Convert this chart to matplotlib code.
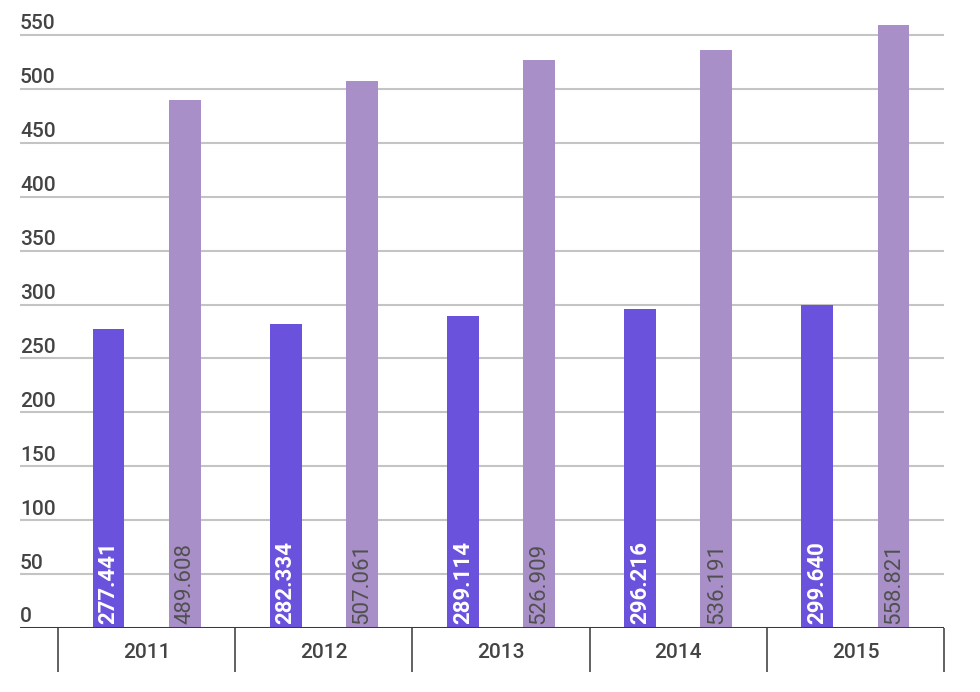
import matplotlib
matplotlib.use("Agg")
import matplotlib.pyplot as plt
import numpy as np
from matplotlib.transforms import blended_transform_factory

years = ["2011", "2012", "2013", "2014", "2015"]
series_a = [277.441, 282.334, 289.114, 296.216, 299.640]
series_b = [489.608, 507.061, 526.909, 536.191, 558.821]
label_a = ["277.441", "282.334", "289.114", "296.216", "299.640"]
label_b = ["489.608", "507.061", "526.909", "536.191", "558.821"]
yticks = [0, 50, 100, 150, 200, 250, 300, 350, 400, 450, 500, 550]

plt.rcParams['font.family'] = ['Roboto', 'DejaVu Sans']

W, H = 980, 692
fig = plt.figure(figsize=(W / 100, H / 100), dpi=100)
x0, x1 = 20, 944
ybase, ytop = 628, 15
ax = fig.add_axes([x0 / W, (H - ybase) / H, (x1 - x0) / W, (ybase - ytop) / H])

pxu = (ybase - 35) / 550.0
ax.set_ylim(0, (ybase - ytop) / pxu)
cat_px = (944 - 58) / 5.0
ax.set_xlim(-0.5 - (58 - x0) / cat_px, 4.5)

c_a = "#6a52dc"
c_b = "#a98fc8"
x = np.arange(len(years))
off, w = 0.215, 0.18
ax.bar(x - off, series_a, w, color=c_a, zorder=3)
ax.bar(x + off, series_b, w, color=c_b, zorder=3)

for v in yticks[1:]:
    ax.axhline(v, color="#c4c4c4", lw=1.5, zorder=1)
ax.axhline(0, color="#3a3a3a", lw=2.2, zorder=4)

for s in ax.spines.values():
    s.set_visible(False)

# y tick labels as text above gridlines
tr = blended_transform_factory(ax.transAxes, ax.transData)
for v in yticks:
    ax.annotate(str(v), xy=(0, v), xycoords=tr, xytext=(0, 4), textcoords="offset points",
                ha="left", va="baseline", fontsize=15, fontweight="medium", color="#444444")
ax.set_yticks([])

# category boundaries as minor ticks
ax.set_xticks(x)
ax.set_xticklabels(years, fontsize=15, fontweight="medium", color="#444444")
ax.tick_params(axis="x", which="major", length=0, pad=11)
ax.set_xticks(np.arange(-0.5, 5.0, 1.0), minor=True)
ax.tick_params(axis="x", which="minor", length=31.5, width=1.3, color="#555555", direction="out")

for i in range(len(years)):
    ax.annotate(label_a[i], xy=(x[i] - off, 0), xytext=(0, 3), textcoords="offset points",
                rotation=90, ha="center", va="bottom", fontsize=16, fontweight="bold",
                color="white", zorder=5)
    ax.annotate(label_b[i], xy=(x[i] + off, 0), xytext=(0, 3), textcoords="offset points",
                rotation=90, ha="center", va="bottom", fontsize=16,
                color="#505050", zorder=5)

fig.savefig("out.png", dpi=100, facecolor="white")
